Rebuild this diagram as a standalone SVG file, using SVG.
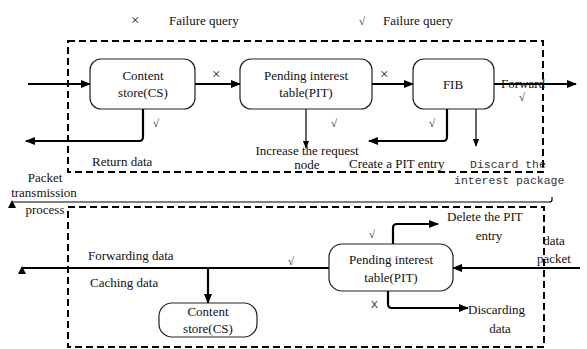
<svg xmlns="http://www.w3.org/2000/svg" width="587" height="349" viewBox="0 0 587 349" font-family="'Liberation Serif', 'DejaVu Serif', serif">
  <style>
    .t { font-family: 'Liberation Serif', 'DejaVu Serif', serif; font-size: 13px; fill: #111; }
    .mono { font-family: 'Liberation Mono', 'DejaVu Sans Mono', monospace; font-size: 11.5px; fill: #333; }
    .ck { font-size: 11px; }
    .x { font-size: 15px; }
    .c { text-anchor: middle; }
    .box { fill: #fff; stroke: #222; stroke-width: 1.2; }
    .frame { fill: none; stroke: #000; stroke-width: 2; stroke-dasharray: 7 4; }
    .thick { fill: none; stroke: #000; stroke-width: 2.2; }
    .thin { fill: none; stroke: #000; stroke-width: 1.2; }
  </style>
  <defs>
    <marker id="ah" viewBox="0 0 10 10" refX="9" refY="5" markerWidth="10" markerHeight="10" markerUnits="userSpaceOnUse" orient="auto">
      <path d="M0,1 L10,5 L0,9 z" fill="#000"/>
    </marker>
    <marker id="ahs" viewBox="0 0 10 10" refX="9" refY="5" markerWidth="8" markerHeight="8" markerUnits="userSpaceOnUse" orient="auto">
      <path d="M0,1 L10,5 L0,9 z" fill="#000"/>
    </marker>
  </defs>

  <!-- legend -->
  <text class="t x" x="131" y="25">×</text>
  <text class="t" x="169" y="25">Failure query</text>
  <text class="t ck" x="359" y="25">√</text>
  <text class="t" x="383" y="25">Failure query</text>

  <!-- dashed process frames -->
  <rect class="frame" x="68" y="41" width="475" height="131"/>
  <rect class="frame" x="68" y="207" width="476" height="140"/>

  <!-- connectors -->
  <g id="connectors">
    <!-- interest packet path -->
    <line class="thick" x1="28" y1="84" x2="90" y2="84" marker-end="url(#ah)"/>
    <line class="thick" x1="195" y1="84" x2="240" y2="84" marker-end="url(#ah)"/>
    <line class="thick" x1="372" y1="84" x2="413" y2="84" marker-end="url(#ah)"/>
    <line class="thick" x1="494" y1="84" x2="576" y2="84" marker-end="url(#ah)"/>
    <path class="thick" d="M143,109 V137 Q143,141 139,141 H26" marker-end="url(#ah)"/>
    <line class="thin" x1="306" y1="109" x2="306" y2="148" marker-end="url(#ahs)"/>
    <path class="thick" d="M447,109 V137 Q447,141 443,141 H369" marker-end="url(#ah)"/>
    <line class="thin" x1="476" y1="109" x2="476" y2="146" marker-end="url(#ahs)"/>

    <!-- packet transmission process line -->
    <path class="thin" d="M552,197 V200 Q552,202 549,202 H12" stroke-width="1.6"/>
    <path d="M8,208 L12,200 L16,208 z" fill="#000"/>

    <!-- data packet path -->
    <line class="thick" x1="580" y1="268" x2="453" y2="268" marker-end="url(#ah)"/>
    <line class="thick" x1="329" y1="268" x2="22" y2="268"/>
    <path d="M18,274 L22,266 L26,274 z" fill="#000"/>
    <line class="thick" x1="208" y1="268" x2="208" y2="303" marker-end="url(#ah)"/>
    <path class="thick" d="M393,244 V228 Q393,224 397,224 H438" marker-end="url(#ah)"/>
    <path class="thick" d="M388,291 V304 Q388,308 392,308 H468" marker-end="url(#ah)"/>
  </g>

  <!-- nodes -->
  <g id="cs-top">
    <rect class="box" x="90" y="59" width="105" height="50" rx="11"/>
    <text class="t c" x="143" y="80">Content</text>
    <text class="t c" x="143" y="97">store(CS)</text>
  </g>
  <g id="pit-top">
    <rect class="box" x="240" y="59" width="132" height="50" rx="11"/>
    <text class="t c" x="306" y="80">Pending interest</text>
    <text class="t c" x="306" y="97">table(PIT)</text>
  </g>
  <g id="fib">
    <rect class="box" x="413" y="59" width="81" height="50" rx="11"/>
    <text class="t c" x="453" y="89">FIB</text>
  </g>
  <g id="pit-bottom">
    <rect class="box" x="329" y="244" width="124" height="47" rx="13"/>
    <text class="t c" x="391" y="264">Pending interest</text>
    <text class="t c" x="391" y="282">table(PIT)</text>
  </g>
  <g id="cs-bottom">
    <rect class="box" x="159" y="303" width="98" height="34" rx="13"/>
    <text class="t c" x="208" y="316">Content</text>
    <text class="t c" x="208" y="333">store(CS)</text>
  </g>

  <!-- labels -->
  <text class="t x" x="212" y="79">×</text>
  <text class="t x" x="380" y="79">×</text>
  <text class="t" x="501" y="88">Forward</text>
  <text class="t ck" x="519" y="101">√</text>
  <text class="t ck" x="153" y="127">√</text>
  <text class="t ck" x="331" y="127">√</text>
  <text class="t ck" x="429" y="127">√</text>
  <text class="t" x="92" y="166">Return data</text>
  <text class="t c" x="307" y="155">Increase the request</text>
  <text class="t c" x="307" y="169">node</text>
  <text class="t" x="349" y="168">Create a PIT entry</text>
  <text class="mono" x="470" y="168">Discard the</text>
  <text class="mono" x="454" y="184">interest package</text>
  <text class="t c" x="45" y="182">Packet</text>
  <text class="t c" x="44" y="197">transmission</text>
  <text class="t c" x="45" y="214">process</text>

  <text class="t" x="88" y="260">Forwarding data</text>
  <text class="t" x="90" y="287">Caching data</text>
  <text class="t ck" x="288" y="265">√</text>
  <text class="t ck" x="369" y="238">√</text>
  <text class="mono" x="371" y="308">X</text>
  <text class="t" x="447" y="221">Delete the PIT</text>
  <text class="t c" x="489" y="240">entry</text>
  <text class="t" x="468" y="314">Discarding</text>
  <text class="t c" x="500" y="333">data</text>
  <text class="t c" x="554" y="245">data</text>
  <text class="t c" x="554" y="263">packet</text>
</svg>
